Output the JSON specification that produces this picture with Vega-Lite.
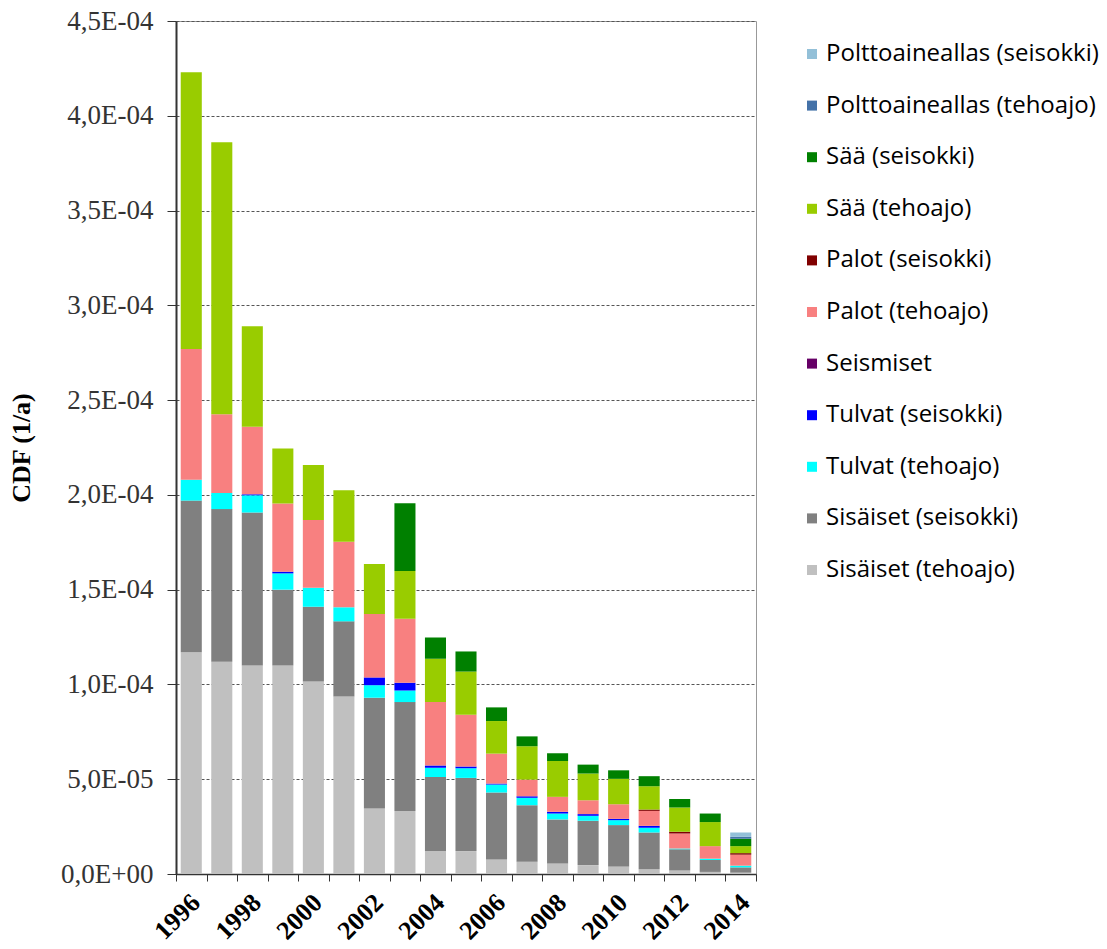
{
  "$schema": "https://vega.github.io/schema/vega-lite/v6.json",
  "autosize": {"type": "none"},
  "padding": {"left": 176, "top": 21, "right": 351, "bottom": 75},
  "width": 580,
  "height": 853,
  "background": "white",
  "config": {
    "view": {"stroke": "#999999", "strokeWidth": 1},
    "font": "Liberation Serif"
  },
  "data": {
    "values": [
      {"y": 1996, "c": "Sisäiset (tehoajo)", "v": 1.17e-4},
      {"y": 1996, "c": "Sisäiset (seisokki)", "v": 0.80e-4},
      {"y": 1996, "c": "Tulvat (tehoajo)", "v": 0.11e-4},
      {"y": 1996, "c": "Palot (tehoajo)", "v": 0.69e-4},
      {"y": 1996, "c": "Sää (tehoajo)", "v": 1.46e-4},

      {"y": 1997, "c": "Sisäiset (tehoajo)", "v": 1.12e-4},
      {"y": 1997, "c": "Sisäiset (seisokki)", "v": 0.805e-4},
      {"y": 1997, "c": "Tulvat (tehoajo)", "v": 0.085e-4},
      {"y": 1997, "c": "Palot (tehoajo)", "v": 0.415e-4},
      {"y": 1997, "c": "Sää (tehoajo)", "v": 1.435e-4},

      {"y": 1998, "c": "Sisäiset (tehoajo)", "v": 1.10e-4},
      {"y": 1998, "c": "Sisäiset (seisokki)", "v": 0.807e-4},
      {"y": 1998, "c": "Tulvat (tehoajo)", "v": 0.091e-4},
      {"y": 1998, "c": "Tulvat (seisokki)", "v": 0.005e-4},
      {"y": 1998, "c": "Palot (tehoajo)", "v": 0.357e-4},
      {"y": 1998, "c": "Sää (tehoajo)", "v": 0.53e-4},

      {"y": 1999, "c": "Sisäiset (tehoajo)", "v": 1.10e-4},
      {"y": 1999, "c": "Sisäiset (seisokki)", "v": 0.40e-4},
      {"y": 1999, "c": "Tulvat (tehoajo)", "v": 0.086e-4},
      {"y": 1999, "c": "Tulvat (seisokki)", "v": 0.009e-4},
      {"y": 1999, "c": "Palot (tehoajo)", "v": 0.359e-4},
      {"y": 1999, "c": "Sää (tehoajo)", "v": 0.291e-4},

      {"y": 2000, "c": "Sisäiset (tehoajo)", "v": 1.016e-4},
      {"y": 2000, "c": "Sisäiset (seisokki)", "v": 0.394e-4},
      {"y": 2000, "c": "Tulvat (tehoajo)", "v": 0.10e-4},
      {"y": 2000, "c": "Palot (tehoajo)", "v": 0.357e-4},
      {"y": 2000, "c": "Sää (tehoajo)", "v": 0.291e-4},

      {"y": 2001, "c": "Sisäiset (tehoajo)", "v": 0.937e-4},
      {"y": 2001, "c": "Sisäiset (seisokki)", "v": 0.396e-4},
      {"y": 2001, "c": "Tulvat (tehoajo)", "v": 0.074e-4},
      {"y": 2001, "c": "Palot (tehoajo)", "v": 0.346e-4},
      {"y": 2001, "c": "Sää (tehoajo)", "v": 0.272e-4},

      {"y": 2002, "c": "Sisäiset (tehoajo)", "v": 0.346e-4},
      {"y": 2002, "c": "Sisäiset (seisokki)", "v": 0.584e-4},
      {"y": 2002, "c": "Tulvat (tehoajo)", "v": 0.066e-4},
      {"y": 2002, "c": "Tulvat (seisokki)", "v": 0.041e-4},
      {"y": 2002, "c": "Palot (tehoajo)", "v": 0.335e-4},
      {"y": 2002, "c": "Sää (tehoajo)", "v": 0.263e-4},

      {"y": 2003, "c": "Sisäiset (tehoajo)", "v": 0.332e-4},
      {"y": 2003, "c": "Sisäiset (seisokki)", "v": 0.575e-4},
      {"y": 2003, "c": "Tulvat (tehoajo)", "v": 0.061e-4},
      {"y": 2003, "c": "Tulvat (seisokki)", "v": 0.041e-4},
      {"y": 2003, "c": "Palot (tehoajo)", "v": 0.338e-4},
      {"y": 2003, "c": "Sää (tehoajo)", "v": 0.251e-4},
      {"y": 2003, "c": "Sää (seisokki)", "v": 0.358e-4},

      {"y": 2004, "c": "Sisäiset (tehoajo)", "v": 0.121e-4},
      {"y": 2004, "c": "Sisäiset (seisokki)", "v": 0.391e-4},
      {"y": 2004, "c": "Tulvat (tehoajo)", "v": 0.049e-4},
      {"y": 2004, "c": "Tulvat (seisokki)", "v": 0.011e-4},
      {"y": 2004, "c": "Palot (tehoajo)", "v": 0.335e-4},
      {"y": 2004, "c": "Sää (tehoajo)", "v": 0.228e-4},
      {"y": 2004, "c": "Sää (seisokki)", "v": 0.112e-4},

      {"y": 2005, "c": "Sisäiset (tehoajo)", "v": 0.121e-4},
      {"y": 2005, "c": "Sisäiset (seisokki)", "v": 0.386e-4},
      {"y": 2005, "c": "Tulvat (tehoajo)", "v": 0.051e-4},
      {"y": 2005, "c": "Tulvat (seisokki)", "v": 0.009e-4},
      {"y": 2005, "c": "Palot (tehoajo)", "v": 0.273e-4},
      {"y": 2005, "c": "Sää (tehoajo)", "v": 0.228e-4},
      {"y": 2005, "c": "Sää (seisokki)", "v": 0.106e-4},

      {"y": 2006, "c": "Sisäiset (tehoajo)", "v": 0.077e-4},
      {"y": 2006, "c": "Sisäiset (seisokki)", "v": 0.353e-4},
      {"y": 2006, "c": "Tulvat (tehoajo)", "v": 0.042e-4},
      {"y": 2006, "c": "Tulvat (seisokki)", "v": 0.005e-4},
      {"y": 2006, "c": "Palot (tehoajo)", "v": 0.158e-4},
      {"y": 2006, "c": "Sää (tehoajo)", "v": 0.172e-4},
      {"y": 2006, "c": "Sää (seisokki)", "v": 0.072e-4},

      {"y": 2007, "c": "Sisäiset (tehoajo)", "v": 0.065e-4},
      {"y": 2007, "c": "Sisäiset (seisokki)", "v": 0.298e-4},
      {"y": 2007, "c": "Tulvat (tehoajo)", "v": 0.039e-4},
      {"y": 2007, "c": "Tulvat (seisokki)", "v": 0.008e-4},
      {"y": 2007, "c": "Palot (tehoajo)", "v": 0.088e-4},
      {"y": 2007, "c": "Sää (tehoajo)", "v": 0.176e-4},
      {"y": 2007, "c": "Sää (seisokki)", "v": 0.052e-4},

      {"y": 2008, "c": "Sisäiset (tehoajo)", "v": 0.056e-4},
      {"y": 2008, "c": "Sisäiset (seisokki)", "v": 0.232e-4},
      {"y": 2008, "c": "Tulvat (tehoajo)", "v": 0.031e-4},
      {"y": 2008, "c": "Tulvat (seisokki)", "v": 0.009e-4},
      {"y": 2008, "c": "Palot (tehoajo)", "v": 0.079e-4},
      {"y": 2008, "c": "Sää (tehoajo)", "v": 0.189e-4},
      {"y": 2008, "c": "Sää (seisokki)", "v": 0.041e-4},

      {"y": 2009, "c": "Sisäiset (tehoajo)", "v": 0.047e-4},
      {"y": 2009, "c": "Sisäiset (seisokki)", "v": 0.234e-4},
      {"y": 2009, "c": "Tulvat (tehoajo)", "v": 0.026e-4},
      {"y": 2009, "c": "Tulvat (seisokki)", "v": 0.009e-4},
      {"y": 2009, "c": "Palot (tehoajo)", "v": 0.073e-4},
      {"y": 2009, "c": "Sää (tehoajo)", "v": 0.141e-4},
      {"y": 2009, "c": "Sää (seisokki)", "v": 0.047e-4},

      {"y": 2010, "c": "Sisäiset (tehoajo)", "v": 0.039e-4},
      {"y": 2010, "c": "Sisäiset (seisokki)", "v": 0.219e-4},
      {"y": 2010, "c": "Tulvat (tehoajo)", "v": 0.026e-4},
      {"y": 2010, "c": "Tulvat (seisokki)", "v": 0.007e-4},
      {"y": 2010, "c": "Palot (tehoajo)", "v": 0.077e-4},
      {"y": 2010, "c": "Sää (tehoajo)", "v": 0.134e-4},
      {"y": 2010, "c": "Sää (seisokki)", "v": 0.045e-4},

      {"y": 2011, "c": "Sisäiset (tehoajo)", "v": 0.025e-4},
      {"y": 2011, "c": "Sisäiset (seisokki)", "v": 0.194e-4},
      {"y": 2011, "c": "Tulvat (tehoajo)", "v": 0.025e-4},
      {"y": 2011, "c": "Tulvat (seisokki)", "v": 0.010e-4},
      {"y": 2011, "c": "Palot (tehoajo)", "v": 0.079e-4},
      {"y": 2011, "c": "Palot (seisokki)", "v": 0.007e-4},
      {"y": 2011, "c": "Sää (tehoajo)", "v": 0.123e-4},
      {"y": 2011, "c": "Sää (seisokki)", "v": 0.053e-4},

      {"y": 2012, "c": "Sisäiset (tehoajo)", "v": 0.018e-4},
      {"y": 2012, "c": "Sisäiset (seisokki)", "v": 0.112e-4},
      {"y": 2012, "c": "Tulvat (tehoajo)", "v": 0.005e-4},
      {"y": 2012, "c": "Palot (tehoajo)", "v": 0.079e-4},
      {"y": 2012, "c": "Palot (seisokki)", "v": 0.009e-4},
      {"y": 2012, "c": "Sää (tehoajo)", "v": 0.128e-4},
      {"y": 2012, "c": "Sää (seisokki)", "v": 0.045e-4},

      {"y": 2013, "c": "Sisäiset (tehoajo)", "v": 0.011e-4},
      {"y": 2013, "c": "Sisäiset (seisokki)", "v": 0.063e-4},
      {"y": 2013, "c": "Tulvat (tehoajo)", "v": 0.007e-4},
      {"y": 2013, "c": "Palot (tehoajo)", "v": 0.066e-4},
      {"y": 2013, "c": "Sää (tehoajo)", "v": 0.127e-4},
      {"y": 2013, "c": "Sää (seisokki)", "v": 0.045e-4},

      {"y": 2014, "c": "Sisäiset (tehoajo)", "v": 0.007e-4},
      {"y": 2014, "c": "Sisäiset (seisokki)", "v": 0.028e-4},
      {"y": 2014, "c": "Tulvat (tehoajo)", "v": 0.009e-4},
      {"y": 2014, "c": "Palot (tehoajo)", "v": 0.058e-4},
      {"y": 2014, "c": "Palot (seisokki)", "v": 0.008e-4},
      {"y": 2014, "c": "Sää (tehoajo)", "v": 0.037e-4},
      {"y": 2014, "c": "Sää (seisokki)", "v": 0.039e-4},
      {"y": 2014, "c": "Polttoaineallas (tehoajo)", "v": 0.010e-4},
      {"y": 2014, "c": "Polttoaineallas (seisokki)", "v": 0.023e-4}
    ]
  },
  "transform": [
    {"calculate": "indexof(['Polttoaineallas (seisokki)', 'Polttoaineallas (tehoajo)', 'Sää (seisokki)', 'Sää (tehoajo)', 'Palot (seisokki)', 'Palot (tehoajo)', 'Seismiset', 'Tulvat (seisokki)', 'Tulvat (tehoajo)', 'Sisäiset (seisokki)', 'Sisäiset (tehoajo)'], datum.c)", "as": "k"}
  ],
  "mark": {"type": "bar", "width": {"band": 0.69}},
  "encoding": {
    "x": {
      "field": "y",
      "type": "ordinal",
      "title": null,
      "scale": {"paddingInner": 0, "paddingOuter": 0},
      "axis": {
        "labelExpr": "datum.value % 2 == 0 ? datum.label : ''",
        "labelAngle": -45,
        "labelFont": "Liberation Serif",
        "labelFontWeight": "bold",
        "labelFontSize": 26,
        "labelColor": "black",
        "labelPadding": 8,
        "labelOffset": -5,
        "tickBand": "extent",
        "tickSize": 7,
        "tickColor": "#333333",
        "domainColor": "#333333",
        "domainWidth": 1.5
      }
    },
    "y": {
      "aggregate": "sum",
      "field": "v",
      "type": "quantitative",
      "title": "CDF (1/a)",
      "stack": "zero",
      "scale": {"domain": [0, 0.00045], "nice": false},
      "axis": {
        "values": [0, 0.00005, 0.0001, 0.00015, 0.0002, 0.00025, 0.0003, 0.00035, 0.0004, 0.00045],
        "labelExpr": "replace(replace(replace(replace(format(datum.value, '.1e'), '.', ','), 'e', 'E'), 'E-', 'E-0'), 'E+', 'E+0')",
        "labelFont": "Liberation Serif",
        "labelFontSize": 27,
        "labelColor": "#333333",
        "labelPadding": 14,
        "tickSize": 9,
        "tickColor": "#333333",
        "domainColor": "#333333",
        "domainWidth": 2,
        "grid": true,
        "gridColor": "#555555",
        "gridDash": [3, 2],
        "gridWidth": 1,
        "titleFont": "Liberation Serif",
        "titleFontWeight": "bold",
        "titleFontSize": 26,
        "titleColor": "black",
        "titlePadding": 26
      }
    },
    "color": {
      "field": "c",
      "type": "nominal",
      "scale": {
        "domain": ["Polttoaineallas (seisokki)", "Polttoaineallas (tehoajo)", "Sää (seisokki)", "Sää (tehoajo)", "Palot (seisokki)", "Palot (tehoajo)", "Seismiset", "Tulvat (seisokki)", "Tulvat (tehoajo)", "Sisäiset (seisokki)", "Sisäiset (tehoajo)"],
        "range": ["#93C0D8", "#4472A8", "#008000", "#99CC00", "#800000", "#F88080", "#660066", "#0000FF", "#00FFFF", "#808080", "#C0C0C0"]
      },
      "legend": {
        "title": null,
        "orient": "none",
        "legendX": 624,
        "legendY": 21,
        "padding": 0,
        "symbolType": "square",
        "symbolSize": 100,
        "symbolStrokeWidth": 0,
        "labelFont": "Open Sans",
        "labelFontSize": 24,
        "labelColor": "black",
        "labelOffset": 2,
        "labelLimit": 400,
        "rowPadding": 27.6
      }
    },
    "order": {"field": "k", "sort": "descending"}
  }
}
